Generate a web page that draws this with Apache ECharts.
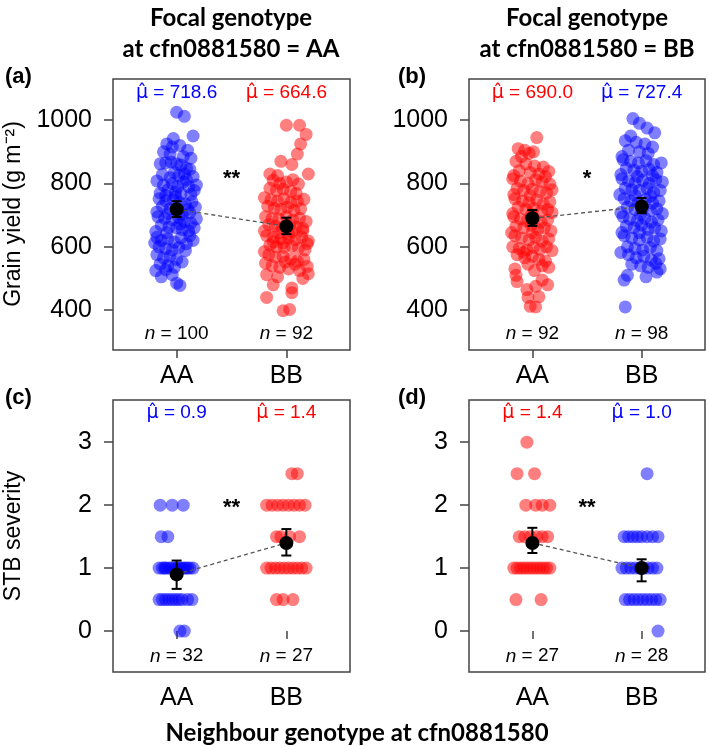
<!DOCTYPE html>
<html><head><meta charset="utf-8">
<script src="https://cdn.jsdelivr.net/npm/echarts@6/dist/echarts.min.js"></script>
<style>html,body{margin:0;padding:0;background:#fff}#c{width:709px;height:747px}</style>
</head><body><div id="c"></div>
<script>
// ---------- data ----------
const categories = ['AA', 'BB'];
const yieldTicks = [400, 600, 800, 1000];
const stbTicks = [0, 1, 2, 3];

// points as [jitter offset from category, value]
const aAA = [[0.00,1025],[0.07,1012],[0.15,950],[-0.03,942],
 [-0.09,925],[-0.04,915],[0.03,920],[0.10,905],[-0.12,900],[-0.06,893],[0.06,885],[0.13,880],
 [-0.15,862],[-0.10,865],[-0.05,868],[0.00,862],[0.04,858],[0.09,848],[0.12,845],[-0.02,835],[0.07,830],[-0.13,828],[0.15,822],[0.02,825],
 [-0.18,808],[-0.12,795],[-0.04,800],[0.01,790],[0.06,805],[0.11,790],[0.16,778],[-0.08,780],[-0.01,772],[0.04,768],[0.13,765],[-0.15,770],[0.09,812],[-0.06,818],[0.18,795],[-0.10,762],
 [-0.16,752],[-0.10,745],[-0.03,748],[0.03,740],[0.08,735],[0.14,742],[-0.13,728],[-0.06,720],[0.01,715],[0.10,718],[0.17,725],[-0.18,710],[-0.08,705],[0.05,702],[0.12,708],[-0.01,758],
 [-0.17,695],[-0.11,690],[-0.04,685],[0.02,692],[0.07,680],[0.13,675],[0.18,688],[-0.14,668],[-0.07,662],[0.00,660],[0.05,655],[0.11,650],[0.16,660],[-0.19,648],[-0.09,645],[0.03,672],
 [-0.18,630],[-0.14,620],[-0.08,625],[-0.02,615],[0.04,628],[0.09,610],[0.15,620],[-0.16,600],[-0.10,595],[-0.04,590],[0.02,598],[0.08,588],[-0.20,612],[0.12,635],
 [-0.18,575],[-0.12,565],[-0.06,570],[0.00,560],[0.05,552],[-0.15,545],[-0.08,540],[-0.02,535],[-0.19,525],[-0.10,528],
 [-0.04,512],[0.00,485],[0.03,478],[-0.14,505]];
const aBB = [[0.00,984],[0.12,984],[0.13,925],[0.18,955],
 [0.10,893],[-0.05,870],[0.05,860],[-0.15,830],[-0.08,825],[0.15,650],[0.20,830],[0.02,640],
 [-0.12,810],[-0.06,800],[0.00,805],[0.06,812],[0.11,798],[-0.15,785],[-0.09,778],[-0.03,782],[0.04,775],[0.09,768],
 [-0.20,755],[-0.14,748],[-0.08,745],[-0.02,752],[0.04,740],[0.10,745],[0.16,750],[-0.17,728],[-0.11,722],[-0.05,718],[0.01,725],[0.07,715],[0.13,720],[0.19,610],[-0.03,612],[-0.12,615],
 [-0.19,695],[-0.13,690],[-0.07,688],[0.00,695],[0.06,685],[0.12,690],[0.18,680],[-0.16,670],[-0.10,665],[-0.04,660],[0.03,668],[0.09,662],[0.15,658],[-0.20,650],[-0.07,645],[0.05,648],
 [-0.18,635],[-0.12,630],[-0.05,625],[0.02,628],[0.08,622],[0.14,630],[0.20,618],[-0.15,605],[-0.09,600],[-0.02,598],[0.05,602],[0.11,595],[0.17,590],[-0.20,585],
 [-0.16,575],[-0.10,568],[-0.03,570],[0.04,562],[0.10,555],[0.16,560],[-0.13,540],[-0.06,535],[0.02,530],[0.12,525],[-0.19,548],[0.19,538],[-0.01,552],[0.08,545],
 [-0.18,512],[-0.08,505],[0.15,500],[0.20,515],[-0.12,480],[0.05,470],
 [-0.18,440],[0.05,455],[-0.03,398],[0.03,402]];
const bAA = [[0.04,945],[-0.13,910],[-0.07,905],[-0.03,895],[-0.10,885],[0.01,900],
 [-0.15,870],[-0.06,862],[0.02,855],[0.10,852],[-0.12,840],[-0.02,835],[0.06,830],[0.15,838],[-0.17,825],[0.12,822],
 [-0.18,815],[-0.11,808],[-0.04,800],[0.03,812],[0.09,805],[0.16,798],[-0.14,785],[-0.08,778],[0.00,782],[0.07,775],[0.13,770],[-0.17,765],[0.18,780],[-0.02,762],
 [-0.16,752],[-0.09,745],[-0.03,740],[0.04,748],[0.10,735],[0.16,742],[-0.13,725],[-0.06,718],[0.01,722],[0.08,712],[0.14,718],[-0.18,705],[-0.01,702],[0.18,708],
 [-0.17,695],[-0.11,688],[-0.05,682],[0.02,690],[0.08,678],[0.14,685],[-0.15,665],[-0.08,660],[-0.01,668],[0.05,655],[0.11,660],[0.17,650],[-0.19,645],[0.00,645],
 [-0.16,635],[-0.10,628],[-0.03,622],[0.03,630],[0.09,618],[0.15,625],[-0.18,600],[-0.12,595],[-0.05,590],[0.01,598],[0.07,592],[0.13,600],[0.18,588],[-0.08,582],
 [-0.14,575],[-0.07,565],[0.00,570],[0.06,560],[0.12,555],[-0.04,545],[0.09,540],[-0.16,530],[0.02,525],[0.15,535],
 [-0.15,510],[-0.14,490],[0.09,495],[0.03,475],[-0.05,465],[0.14,480],
 [-0.04,440],[0.06,442],[-0.02,412],[0.03,410]];
const bBB = [[-0.08,1005],[-0.02,990],[0.05,975],[0.12,960],[-0.10,950],
 [-0.15,935],[-0.05,930],[0.03,925],[0.10,915],[0.17,530],[-0.12,905],[-0.02,900],[0.06,895],[0.14,520],[-0.18,885],
 [-0.17,875],[-0.10,870],[-0.03,865],[0.04,872],[0.11,860],[0.18,865],[-0.14,848],[-0.07,842],[0.00,838],[0.07,845],[0.14,835],[-0.19,828],[-0.04,822],[0.10,825],
 [-0.18,815],[-0.12,808],[-0.06,802],[0.01,810],[0.07,800],[0.13,812],[0.19,805],[-0.15,785],[-0.09,780],[-0.02,778],[0.05,785],[0.11,772],[0.17,778],[-0.20,765],[-0.06,762],[0.08,760],
 [-0.16,752],[-0.10,745],[-0.03,740],[0.04,750],[0.10,738],[0.16,745],[-0.13,725],[-0.06,718],[0.01,722],[0.08,715],[0.14,720],[-0.19,708],[-0.01,702],[0.19,705],
 [-0.17,695],[-0.11,688],[-0.04,682],[0.03,690],[0.09,678],[0.15,685],[-0.14,665],[-0.07,660],[0.00,668],[0.06,655],[0.12,660],[0.18,650],[-0.18,645],[-0.02,645],
 [-0.16,635],[-0.09,628],[-0.02,622],[0.05,630],[0.11,618],[0.17,625],[-0.13,600],[-0.06,595],[0.01,590],[0.08,598],[0.14,588],[-0.19,582],
 [-0.12,575],[-0.05,565],[0.02,570],[0.09,558],[0.16,562],[-0.09,545],[-0.01,540],[0.06,535],[0.13,548],
 [-0.13,510],[-0.16,495],[0.04,505],
 [-0.15,410]];
const cAA = [[-0.15,2],[-0.04,2],[0.06,2],
 [-0.14,1.5],[-0.08,1.5],
 [-0.16,1],[-0.13,1],[-0.10,1],[-0.07,1],[-0.05,1],[-0.02,1],[0.00,1],[0.02,1],[0.04,1],[0.06,1],[0.08,1],[0.10,1],[0.12,1],[-0.11,1],[0.15,1],
 [-0.16,0.5],[-0.13,0.5],[-0.10,0.5],[-0.07,0.5],[-0.04,0.5],[-0.01,0.5],[0.02,0.5],[0.05,0.5],[0.10,0.5],[0.14,0.5],
 [0.03,0],[0.07,0]];
const cBB = [[0.05,2.5],[0.10,2.5],
 [-0.18,2],[-0.13,2],[-0.08,2],[-0.03,2],[0.02,2],[0.07,2],[0.12,2],[0.17,2],
 [-0.09,1.5],[-0.05,1.5],[0.03,1.5],[0.12,1.5],
 [-0.18,1],[-0.14,1],[-0.10,1],[-0.06,1],[-0.02,1],[0.02,1],[0.06,1],[0.10,1],[0.14,1],[0.18,1],
 [-0.09,0.5],[-0.03,0.5],[0.06,0.5]];
const dAA = [[-0.05,3],
 [-0.14,2.5],[0.02,2.5],
 [-0.06,2],[0.03,2],[0.09,2],[0.16,2],
 [-0.12,1.5],[-0.07,1.5],[-0.02,1.5],[0.04,1.5],[0.09,1.5],[0.14,1.5],
 [-0.17,1],[-0.14,1],[-0.11,1],[-0.08,1],[-0.05,1],[-0.02,1],[0.01,1],[0.04,1],[0.07,1],[0.10,1],[0.13,1],[0.16,1],
 [-0.15,0.5],[0.08,0.5]];
const dBB = [[0.05,2.5],
 [-0.16,1.5],[-0.12,1.5],[-0.08,1.5],[-0.04,1.5],[0.00,1.5],[0.05,1.5],[0.10,1.5],[0.15,1.5],
 [-0.18,1],[-0.14,1],[-0.10,1],[-0.06,1],[-0.02,1],[0.02,1],[0.06,1],[0.10,1],[0.14,1],
 [-0.15,0.5],[-0.11,0.5],[-0.07,0.5],[-0.03,0.5],[0.01,0.5],[0.05,0.5],[0.09,0.5],[0.13,0.5],[0.17,0.5],
 [0.15,0]];

const muA = [718.6, 664.6], ciA = [[694, 744], [640, 692]], nA = [100, 92];
const muB = [690.0, 727.4], ciB = [[666, 716], [706, 754]], nB = [92, 98];
const muC = [0.9, 1.4], ciC = [[0.67, 1.12], [1.20, 1.62]], nC = [32, 27];
const muD = [1.4, 1.0], ciD = [[1.24, 1.64], [0.79, 1.14]], nD = [27, 28];
const stars = ['**', '*', '**', '**'];

// ---------- chart ----------
const FONT = "Arial, 'Liberation Sans', Helvetica, sans-serif";
const panels = [
  {pts: [aAA, aBB], cols: ['#0000ff', '#ff0000'], mu: muA, ci: ciA, n: nA, starY: 815, muY: 1085, nY: 325},
  {pts: [bAA, bBB], cols: ['#ff0000', '#0000ff'], mu: muB, ci: ciB, n: nB, starY: 815, muY: 1085, nY: 325},
  {pts: [cAA, cBB], cols: ['#0000ff', '#ff0000'], mu: muC, ci: ciC, n: nC, starY: 1.96, muY: 3.46, nY: -0.4},
  {pts: [dAA, dBB], cols: ['#ff0000', '#0000ff'], mu: muD, ci: ciD, n: nD, starY: 1.96, muY: 3.46, nY: -0.4}
];
const gridPos = [
  {left: 113, top: 79, width: 237, height: 271},
  {left: 469, top: 79, width: 236, height: 271},
  {left: 113, top: 400, width: 237, height: 272},
  {left: 469, top: 400, width: 236, height: 272}
];

const grids = gridPos.map(g => Object.assign({show: true, borderColor: '#444', borderWidth: 1.5, backgroundColor: 'transparent'}, g));
const xAxes = gridPos.map((g, i) => ({
  type: 'value', gridIndex: i, min: 0.42, max: 2.58,
  axisLine: {show: false}, splitLine: {show: false},
  axisTick: {show: true, customValues: [1, 2], length: 8, lineStyle: {color: '#444', width: 1.5}},
  axisLabel: {show: true, customValues: [1, 2], formatter: v => categories[Math.round(v) - 1], fontSize: 25, color: '#000', fontFamily: FONT, margin: 14}
}));
const yAxes = gridPos.map((g, i) => {
  const top = i < 2;
  return {
    type: 'value', gridIndex: i,
    min: top ? 274 : -0.65, max: top ? 1130 : 3.67,
    axisLine: {show: false}, splitLine: {show: false},
    axisTick: {show: true, customValues: top ? yieldTicks : stbTicks, length: 9, lineStyle: {color: '#444', width: 1.5}},
    axisLabel: {show: true, customValues: top ? yieldTicks : stbTicks, formatter: v => String(v), fontSize: 25, color: '#000', fontFamily: FONT, margin: 21}
  };
});

const series = [];
panels.forEach((p, i) => {
  p.pts.forEach((arr, k) => {
    series.push({
      type: 'scatter', xAxisIndex: i, yAxisIndex: i, symbolSize: 13, z: 2,
      itemStyle: {color: p.cols[k], opacity: 0.5},
      data: arr.map(d => [k + 1 + d[0], d[1]]), silent: true
    });
  });
  series.push({
    type: 'line', xAxisIndex: i, yAxisIndex: i, z: 4, symbol: 'none',
    lineStyle: {color: '#555', width: 1.3, type: [4, 3]},
    data: p.mu.map((m, k) => [k + 1, m])
  });
  series.push({
    type: 'custom', xAxisIndex: i, yAxisIndex: i, z: 5,
    data: p.ci.map((c, k) => [k + 1, c[0], c[1]]),
    renderItem(params, api) {
      const x = api.value(0);
      const lo = api.coord([x, api.value(1)]);
      const hi = api.coord([x, api.value(2)]);
      const w = 5, st = {stroke: '#000', lineWidth: 2};
      return {type: 'group', children: [
        {type: 'line', shape: {x1: lo[0], y1: lo[1], x2: hi[0], y2: hi[1]}, style: st},
        {type: 'line', shape: {x1: lo[0] - w, y1: lo[1], x2: lo[0] + w, y2: lo[1]}, style: st},
        {type: 'line', shape: {x1: hi[0] - w, y1: hi[1], x2: hi[0] + w, y2: hi[1]}, style: st}
      ]};
    }
  });
  series.push({
    type: 'scatter', xAxisIndex: i, yAxisIndex: i, z: 6, symbolSize: 14,
    itemStyle: {color: '#000', opacity: 1},
    data: p.mu.map((m, k) => [k + 1, m])
  });
  // text annotations placed at data coordinates
  const labels = [];
  p.mu.forEach((m, k) => {
    labels.push({value: [k + 1, p.muY], label: {formatter: '{mu|\u03BC\u0302} = ' + m.toFixed(1), color: p.cols[k], fontSize: 19,
      rich: {mu: {fontFamily: 'DejaVu Sans', fontSize: 19, color: p.cols[k]}}}});
    labels.push({value: [k + 1, p.nY], label: {formatter: '{i|n} = ' + p.n[k], color: '#000', fontSize: 19}});
  });
  labels.push({value: [1.5, p.starY], label: {formatter: stars[i], color: '#000', fontSize: 22, fontWeight: 'bold'}});
  series.push({
    type: 'scatter', xAxisIndex: i, yAxisIndex: i, z: 7, symbolSize: 0, silent: true,
    itemStyle: {opacity: 1},
    label: {show: true, position: 'inside', fontFamily: FONT, color: '#000', opacity: 1,
      rich: {i: {fontStyle: 'italic', fontSize: 19, fontFamily: FONT, color: '#000'}}},
    data: labels
  });
});

const T = (text, x, y, font, align, rot) => ({type: 'text', x, y, rotation: rot || 0, silent: true,
  style: {text, font, fill: '#000', align: align || 'center', verticalAlign: 'middle'}});
const TF = 'bold 24px Lato';
const LF = "bold 22px Arial, 'Liberation Sans', sans-serif";
const AF = "23px Arial, 'Liberation Sans', sans-serif";
const graphic = [
  T('Focal genotype', 231, 18, TF), T('at cfn0881580 = AA', 231, 49, TF),
  T('Focal genotype', 587, 18, TF), T('at cfn0881580 = BB', 587, 49, TF),
  T('(a)', 5, 77, LF, 'left'), T('(b)', 398, 77, LF, 'left'),
  T('(c)', 5, 398, LF, 'left'), T('(d)', 398, 398, LF, 'left'),
  T('Grain yield (g m\u207B\u00B2)', 14, 214, AF, 'center', Math.PI / 2),
  T('STB severity', 14, 536, AF, 'center', Math.PI / 2),
  T('Neighbour genotype at cfn0881580', 357, 733, TF)
];

const chart = echarts.init(document.getElementById('c'), null, {renderer: 'canvas'});
chart.setOption({animation: false, backgroundColor: '#fff', grid: grids, xAxis: xAxes, yAxis: yAxes, series, graphic});
</script></body></html>
